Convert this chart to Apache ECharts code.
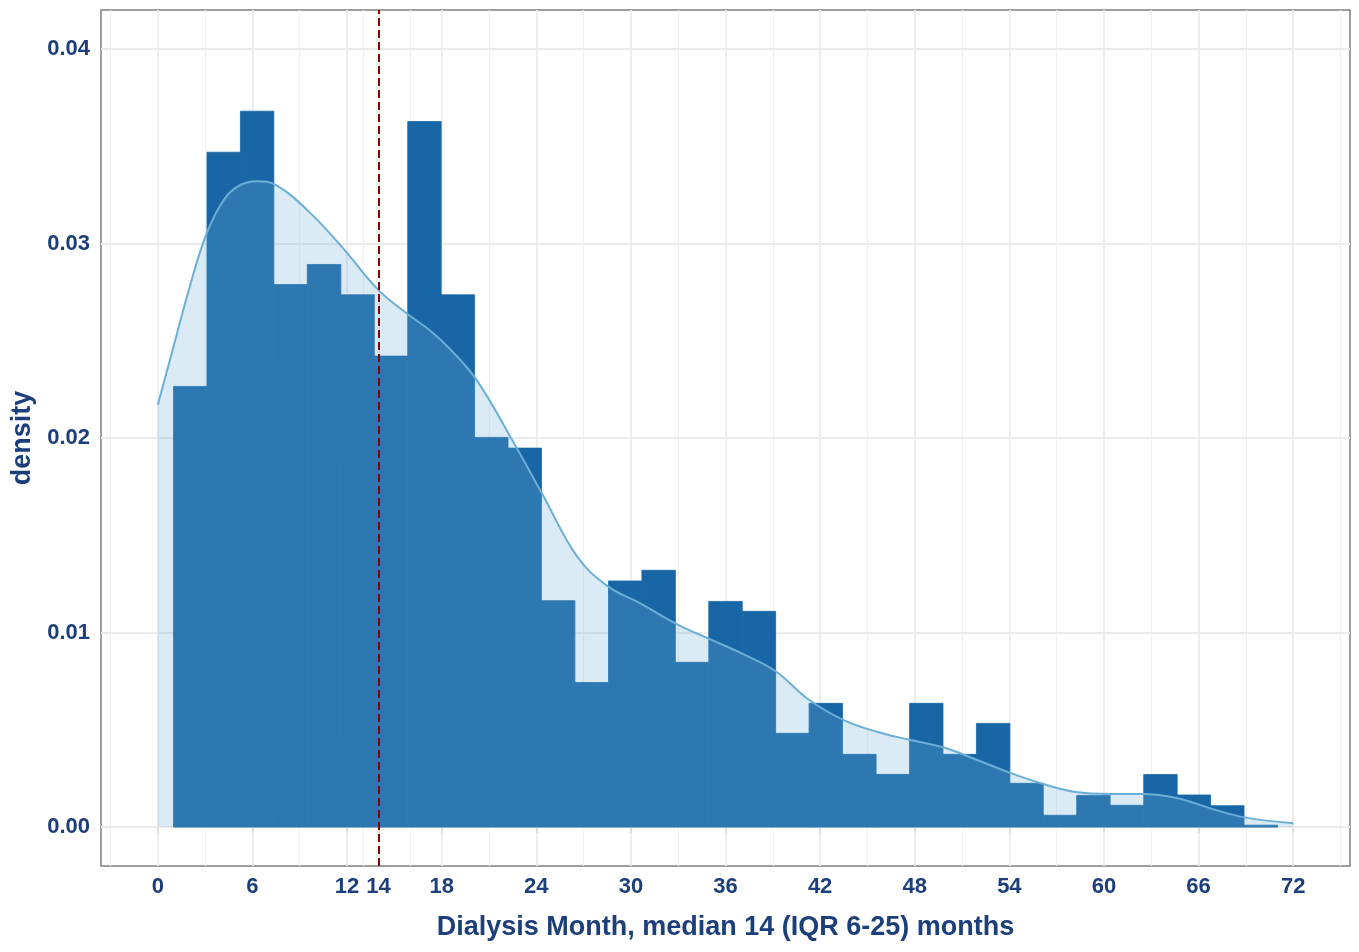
<!DOCTYPE html>
<html lang="en">

<head>
    <meta charset="UTF-8">
    <title>Dialysis Month</title>
    <script src="https://cdn.jsdelivr.net/npm/echarts@6/dist/echarts.min.js"></script>
    <style>
        html, body { margin: 0; padding: 0; background: #fff; }
        #main { width: 1359px; height: 952px; }
    </style>
</head>

<body>
    <div id="main"></div>
    <script>
        // histogram bins (edges) and densities
        var binEdges = [1.00, 3.12, 5.24, 7.36, 9.48, 11.61, 13.73, 15.85, 17.97, 20.09, 22.21, 24.33,
            26.45, 28.58, 30.70, 32.82, 34.94, 37.06, 39.18, 41.30, 43.42, 45.55, 47.67, 49.79,
            51.91, 54.03, 56.15, 58.27, 60.39, 62.52, 64.64, 66.76, 68.88, 71.00];
        var binDensity = [0.02265, 0.03469, 0.03680, 0.02789, 0.02892, 0.02736, 0.02421, 0.03627,
            0.02736, 0.02003, 0.01948, 0.01164, 0.00743, 0.01265, 0.01320, 0.00847, 0.01160,
            0.01109, 0.00482, 0.00636, 0.00374, 0.00271, 0.00636, 0.00374, 0.00533, 0.00225,
            0.00061, 0.00163, 0.00112, 0.00270, 0.00165, 0.00110, 0.00010];

        // kernel density curve
        var densX = [0, 1, 2, 3, 4, 5, 6.3, 7.5, 9.5, 11.7, 14, 15.8, 17.3, 18.5, 20.2, 22.4, 24.4,
            26.6, 28.5, 30.6, 33, 34.9, 37.1, 39.2, 41.2, 43.5, 45.6, 47.6, 49.8, 51.8, 54, 56.2,
            58.2, 60.4, 62.4, 64.6, 66.8, 68.9, 72];
        var densY = [0.0217, 0.0247, 0.0277, 0.0303, 0.0320, 0.0329, 0.0332, 0.0330, 0.0317, 0.0298,
            0.0276, 0.0264, 0.0255, 0.0246, 0.0230, 0.0200, 0.0171, 0.0139, 0.0124, 0.0115, 0.0104,
            0.0097, 0.0089, 0.0080, 0.0066, 0.0055, 0.0049, 0.0045, 0.0041, 0.0035, 0.0028, 0.0022,
            0.0018, 0.0017, 0.0017, 0.0015, 0.00095, 0.0005, 0.0002];

        var medianMonth = 14;

        // axis breaks
        var xBreaks = [0, 6, 12, 14, 18, 24, 30, 36, 42, 48, 54, 60, 66, 72];
        var xMinor = [-3, 3, 9, 13, 16, 21, 27, 33, 39, 45, 51, 57, 63, 69, 75];
        var yBreaks = [0, 0.01, 0.02, 0.03, 0.04];
        var yMinor = [0.005, 0.015, 0.025, 0.035];

        var textColor = '#1c3f7b';
        var fontFamily = '"Liberation Sans", Arial, sans-serif';

        var barData = [];
        for (var i = 0; i < binDensity.length; i++) {
            barData.push([binEdges[i], binEdges[i + 1], binDensity[i]]);
        }
        var densData = [];
        for (var j = 0; j < densX.length; j++) {
            densData.push([densX[j], densY[j]]);
        }

        var gridLines = [];
        xMinor.forEach(function (v) {
            gridLines.push({ xAxis: v, lineStyle: { color: '#f1f1f1', width: 1.2, type: 'solid' } });
        });
        yMinor.forEach(function (v) {
            gridLines.push({ yAxis: v, lineStyle: { color: '#f1f1f1', width: 1.2, type: 'solid' } });
        });
        xBreaks.forEach(function (v) {
            gridLines.push({ xAxis: v, lineStyle: { color: '#ebebeb', width: 1.8, type: 'solid' } });
        });
        yBreaks.forEach(function (v) {
            gridLines.push({ yAxis: v, lineStyle: { color: '#ebebeb', width: 1.8, type: 'solid' } });
        });

        var myChart = echarts.init(document.getElementById('main'));

        var option = {
            animation: false,
            textStyle: { fontFamily: fontFamily },
            grid: {
                left: 101,
                right: 9,
                top: 10,
                bottom: 86,
                show: true,
                backgroundColor: '#fff',
                borderColor: '#7f7f7f',
                borderWidth: 1.5
            },
            xAxis: {
                type: 'value',
                min: -3.6,
                max: 75.6,
                name: 'Dialysis Month, median 14 (IQR 6-25) months',
                nameLocation: 'middle',
                nameGap: 48,
                nameTextStyle: { color: textColor, fontSize: 27, fontWeight: 'bold' },
                axisLine: { show: false },
                axisTick: { show: true, customValues: xBreaks, length: 6, lineStyle: { color: '#333', width: 1.5 } },
                axisLabel: {
                    customValues: xBreaks,
                    hideOverlap: false,
                    color: textColor,
                    fontSize: 22,
                    fontWeight: 'bold',
                    margin: 10
                },
                splitLine: { show: false }
            },
            yAxis: {
                type: 'value',
                min: -0.002,
                max: 0.042,
                name: 'density',
                nameLocation: 'middle',
                nameGap: 62,
                nameTextStyle: { color: textColor, fontSize: 27, fontWeight: 'bold' },
                axisLine: { show: false },
                axisTick: { show: true, customValues: yBreaks, length: 6, lineStyle: { color: '#333', width: 1.5 } },
                axisLabel: {
                    customValues: yBreaks,
                    color: textColor,
                    fontSize: 22,
                    fontWeight: 'bold',
                    margin: 11,
                    formatter: function (v) { return v.toFixed(2); }
                },
                splitLine: { show: false }
            },
            series: [
                {
                    // panel grid lines
                    type: 'line',
                    z: 1,
                    data: [],
                    silent: true,
                    markLine: {
                        z: 1,
                        silent: true,
                        symbol: ['none', 'none'],
                        label: { show: false },
                        emphasis: { disabled: true },
                        animation: false,
                        data: gridLines
                    }
                },
                {
                    // histogram
                    type: 'custom',
                    z: 2,
                    data: barData,
                    renderItem: function (params, api) {
                        var p0 = api.coord([api.value(0), api.value(2)]);
                        var p1 = api.coord([api.value(1), 0]);
                        return {
                            type: 'rect',
                            shape: { x: p0[0], y: p0[1], width: p1[0] - p0[0], height: p1[1] - p0[1] },
                            style: { fill: '#1866a5', stroke: '#1866a5', lineWidth: 0.8 }
                        };
                    }
                },
                {
                    // density curve
                    type: 'line',
                    z: 3,
                    data: densData,
                    smooth: 0.4,
                    symbol: 'none',
                    lineStyle: { color: '#6baed6', width: 2 },
                    areaStyle: { color: 'rgba(107,174,214,0.36)' }
                },
                {
                    // median
                    type: 'line',
                    z: 4,
                    data: [],
                    markLine: {
                        z: 6,
                        silent: true,
                        symbol: ['none', 'none'],
                        label: { show: false },
                        lineStyle: { color: '#8b0000', width: 2, type: [8, 4] },
                        data: [{ xAxis: medianMonth }]
                    }
                }
            ]
        };

        myChart.setOption(option);
    </script>
</body>

</html>
